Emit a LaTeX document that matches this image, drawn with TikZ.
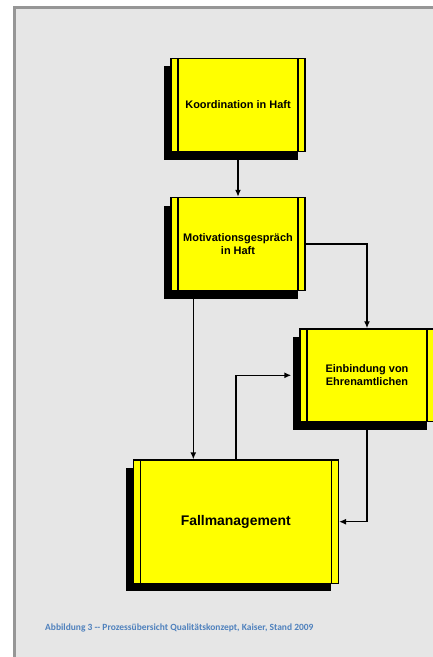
\documentclass[tikz,border=0pt]{standalone}
\usepackage{fontspec}
\setmainfont{Liberation Sans}
\newfontfamily\capfont{Carlito}
\usetikzlibrary{shadows,arrows.meta}

\definecolor{pagegray}{RGB}{230,230,230}
\definecolor{framegray}{RGB}{150,150,150}
\definecolor{boxyellow}{RGB}{255,255,0}
\definecolor{capblue}{RGB}{79,129,189}

\tikzset{
    procbox/.style={draw=black, line width=1.4bp, fill=boxyellow,
        general shadow={fill=black, shadow xshift=-7bp, shadow yshift=-8bp},
        font=\fontsize{11}{13.3}\selectfont\bfseries, align=center,
        inner sep=0pt, minimum width=134bp, minimum height=93bp,
        path picture={
            \draw[line width=1.4bp] ([xshift=7bp]path picture bounding box.north west) -- ([xshift=7bp]path picture bounding box.south west);
            \draw[line width=1.4bp] ([xshift=-7bp]path picture bounding box.north east) -- ([xshift=-7bp]path picture bounding box.south east);
        }},
    flow/.style={line width=1.4bp, -{Latex[length=7bp,width=6bp]}}
}

\begin{document}
\begin{tikzpicture}[x=1bp, y=-1bp]
    \useasboundingbox (0,0) rectangle (432,657);

    % page
    \draw[line width=3bp, draw=framegray, fill=pagegray] (14.5,7.5) rectangle (460,690);

    % boxes
    \node[procbox] (koord) at (238,105) {Koordination in Haft};
    \node[procbox] (motiv) at (238,244) {Motivationsgespr\"ach\\in Haft};
    \node[procbox, minimum height=92.7bp] (ehren) at (367,375.3) {Einbindung von\\Ehrenamtlichen};
    \node[procbox, minimum width=205bp, minimum height=123.3bp,
        font=\fontsize{14}{16}\selectfont\bfseries] (fall) at (235.8,521.7) {Fallmanagement};

    % connectors
    \coordinate (leftline) at (193.3,0);
    \draw[flow] (koord.south) -- (motiv.north);
    \draw[flow] (motiv.east) -| (ehren.north);
    \draw[flow] (motiv.south -| leftline) -- (fall.north -| leftline);
    \draw[flow] (fall.north) |- ([xshift=-8bp]ehren.west);
    \draw[flow] (ehren.south) |- (fall.east);

    % caption
    \node[anchor=base west, inner sep=0pt, text=capblue,
        font=\capfont\fontsize{9.5}{11.4}\selectfont\bfseries] (caption) at (45,630.5)
        {Abbildung 3 -- Prozess\"ubersicht Qualit\"atskonzept, Kaiser, Stand 2009};
\end{tikzpicture}
\end{document}
